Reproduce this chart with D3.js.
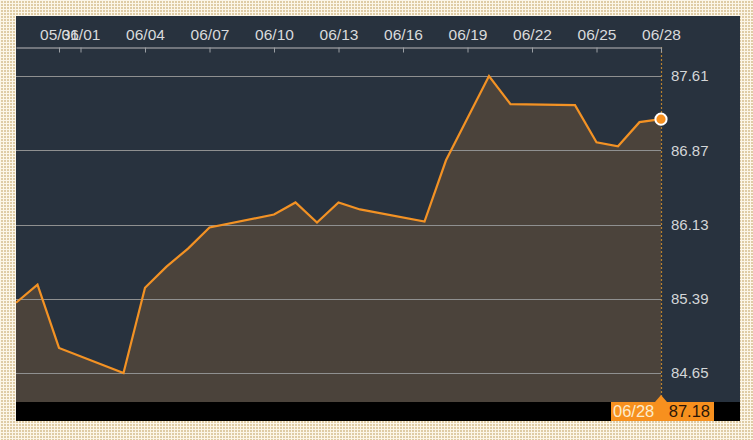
<!DOCTYPE html>
<html>
<head>
<meta charset="utf-8">
<script src="https://cdn.jsdelivr.net/npm/d3@7/dist/d3.min.js"></script>
<style>
  html, body { margin: 0; padding: 0; background: #fbf5e6; }
  svg { display: block; }
</style>
</head>
<body>
<svg id="chart" width="753" height="440"></svg>
<script>
// ---- data ----
const dates = ["05/29","05/30","05/31","06/03","06/04","06/05","06/06","06/07","06/10","06/11",
               "06/12","06/13","06/14","06/17","06/18","06/20","06/21","06/24","06/25","06/26",
               "06/27","06/28"];
const values = [85.35, 85.53, 84.90, 84.65, 85.50, 85.71, 85.89, 86.10, 86.23, 86.35,
                86.15, 86.35, 86.28, 86.16, 86.77, 87.61, 87.33, 87.32, 86.95, 86.91,
                87.15, 87.18];
const xTickLabels = ["05/31","06/01","06/04","06/07","06/10","06/13","06/16","06/19","06/22","06/25","06/28"];
const yTickValues = [84.65, 85.39, 86.13, 86.87, 87.61];
const year = 2024;

const parse = s => { const [m, d] = s.split("/").map(Number); return new Date(Date.UTC(year, m - 1, d)); };
const data = dates.map((d, i) => ({ date: parse(d), value: values[i] }));

const svg = d3.select("#chart");
const W = 753, H = 440;

// background dotted pattern
const defs = svg.append("defs");
const pat = defs.append("pattern").attr("id", "dots").attr("width", 3).attr("height", 3)
  .attr("patternUnits", "userSpaceOnUse");
pat.append("rect").attr("width", 3).attr("height", 3).attr("fill", "#fcf6e8");
pat.append("rect").attr("x", 1).attr("y", 1).attr("width", 2).attr("height", 2).attr("fill", "#dfcca5");
svg.append("rect").attr("width", W).attr("height", H).attr("fill", "url(#dots)");

// panel
const panel = { left: 16, top: 16, right: 740, bottom: 421 };
svg.append("rect").attr("x", panel.left).attr("y", panel.top)
  .attr("width", panel.right - panel.left).attr("height", panel.bottom - panel.top)
  .attr("fill", "#28323e");

const plot = { left: 16, right: 661, top: 47, bottom: 402 };

const x = d3.scaleUtc().domain([parse(dates[0]), parse(dates[dates.length - 1])])
  .range([plot.left, plot.right]);
const yPad = 0.289;
const y = d3.scaleLinear().domain([yTickValues[0] - yPad, yTickValues[yTickValues.length - 1] + yPad])
  .range([plot.bottom, plot.top]);

// area
const area = d3.area().x(d => x(d.date)).y0(plot.bottom).y1(d => y(d.value));
svg.append("path").datum(data).attr("d", area).attr("fill", "#4b433b");

// gridlines
svg.append("g").selectAll("line").data(yTickValues).join("line")
  .attr("x1", plot.left).attr("x2", plot.right)
  .attr("y1", d => Math.round(y(d)) + 0.5).attr("y2", d => Math.round(y(d)) + 0.5)
  .attr("stroke", "#8f9090").attr("stroke-width", 1);

// vertical dotted line at last point
svg.append("line").attr("x1", plot.right + 0.5).attr("x2", plot.right + 0.5)
  .attr("y1", plot.top).attr("y2", plot.bottom)
  .attr("stroke", "#b8802f").attr("stroke-width", 1.2).attr("stroke-dasharray", "2,2");

// line
const line = d3.line().x(d => x(d.date)).y(d => y(d.value));
svg.append("path").datum(data).attr("d", line).attr("fill", "none")
  .attr("stroke", "#f39224").attr("stroke-width", 2.2).attr("stroke-linejoin", "miter");

// top axis
const xAxis = d3.axisTop(x).tickValues(xTickLabels.map(parse))
  .tickFormat(d3.utcFormat("%m/%d")).tickSizeInner(-5).tickSizeOuter(0).tickPadding(8);
const gx = svg.append("g").attr("transform", `translate(0,${plot.top + 0.5})`).call(xAxis);
gx.select(".domain").attr("stroke", "#8a8d92").attr("stroke-width", 1.5);
gx.selectAll(".tick line").attr("stroke", "#9a9ea3");
gx.selectAll("text").attr("fill", "#d9dadc").attr("font-family", "Liberation Sans, Arial, sans-serif")
  .attr("font-size", "15.5px");

// right axis labels
const yAxis = d3.axisRight(y).tickValues(yTickValues).tickFormat(d3.format(".2f"))
  .tickSize(0).tickPadding(10);
const gy = svg.append("g").attr("transform", `translate(${plot.right},0)`).call(yAxis);
gy.select(".domain").remove();
gy.selectAll("text").attr("fill", "#d4d6d8").attr("font-family", "Liberation Sans, Arial, sans-serif")
  .attr("font-size", "15px");

// black bar
svg.append("rect").attr("x", panel.left).attr("y", plot.bottom)
  .attr("width", panel.right - panel.left).attr("height", panel.bottom - plot.bottom).attr("fill", "#000");

// end point marker
const last = data[data.length - 1];
svg.append("circle").attr("cx", x(last.date)).attr("cy", y(last.value)).attr("r", 5.6)
  .attr("fill", "#f7901e").attr("stroke", "#ffffff").attr("stroke-width", 2);

// bottom label
const lx = x(last.date);
svg.append("rect").attr("x", 611).attr("y", plot.bottom).attr("width", 103).attr("height", 19)
  .attr("fill", "#f7901e");
svg.append("path")
  .attr("d", `M${lx - 6},${plot.bottom} L${lx},${plot.bottom - 7} L${lx + 6},${plot.bottom} Z`)
  .attr("fill", "#f7901e");
svg.append("text").attr("x", 613).attr("y", 417).text(d3.utcFormat("%m/%d")(last.date))
  .attr("fill", "#fdeccc").attr("font-family", "Liberation Sans, Arial, sans-serif").attr("font-size", "16.5px");
svg.append("text").attr("x", 710).attr("y", 417).attr("text-anchor", "end").text(d3.format(".2f")(last.value))
  .attr("fill", "#2a1608").attr("font-family", "Liberation Sans, Arial, sans-serif").attr("font-size", "16.5px");
</script>
</body>
</html>
